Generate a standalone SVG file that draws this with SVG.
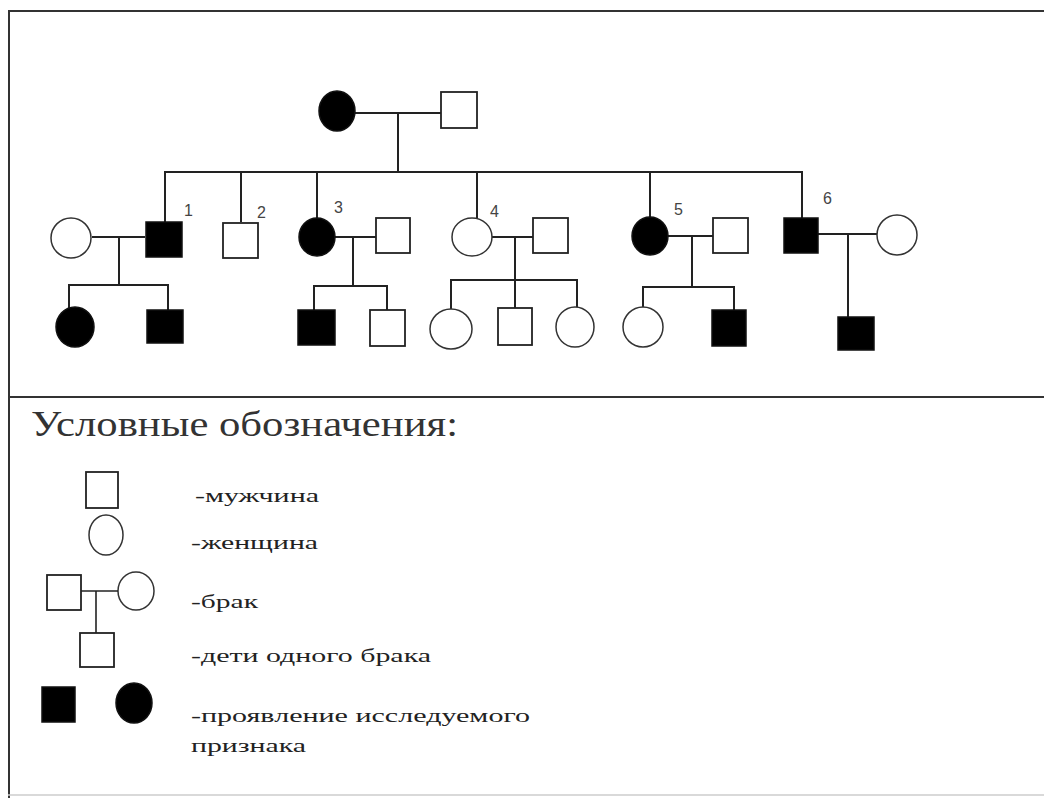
<svg xmlns="http://www.w3.org/2000/svg" width="1044" height="798" viewBox="0 0 1044 798">
<style>
.m{fill:#fff;stroke:#222;stroke-width:1.8}
.a{fill:#000;stroke:#111;stroke-width:1.5}
.f{fill:#fff;stroke:#333;stroke-width:1.5}
.c line{stroke:#222;stroke-width:2}
.d{stroke:#222;stroke-width:1.6}
.num{font-family:"Liberation Sans",Arial,sans-serif;font-size:16px;fill:#444}
.lg{font-family:"Liberation Serif","Times New Roman",serif;font-size:19px;fill:#222}
.tt{font-family:"Liberation Serif","Times New Roman",serif;font-size:36px;fill:#333}
.fr{stroke:#333;stroke-width:2}
</style>
<rect width="1044" height="798" fill="#fff"/>
<g id="frame">
<line class="fr" x1="8" y1="11" x2="1044" y2="11"/>
<line class="fr" x1="9" y1="10" x2="9" y2="798"/>
<line class="fr" x1="8" y1="397" x2="1044" y2="397" stroke-width="2.5"/>
<line x1="8" y1="795" x2="1044" y2="795" stroke="#ccc" stroke-width="1.5"/>
</g>
<g id="connectors" class="c">
<line x1="355" y1="113" x2="441" y2="113"/>
<line class="d" x1="398" y1="113" x2="398" y2="172"/>
<line x1="164" y1="172" x2="803" y2="172"/>
<line class="d" x1="165" y1="172" x2="165" y2="222"/>
<line class="d" x1="241" y1="172" x2="241" y2="222"/>
<line class="d" x1="317" y1="172" x2="317" y2="218"/>
<line class="d" x1="477" y1="172" x2="477" y2="218"/>
<line class="d" x1="650" y1="172" x2="650" y2="218"/>
<line class="d" x1="802" y1="172" x2="802" y2="218"/>
<line x1="92" y1="237" x2="145" y2="237"/>
<line class="d" x1="119" y1="237" x2="119" y2="285"/>
<line x1="68" y1="285" x2="169" y2="285"/>
<line class="d" x1="69" y1="285" x2="69" y2="308"/>
<line class="d" x1="168" y1="285" x2="168" y2="310"/>
<line x1="335" y1="237" x2="376" y2="237"/>
<line class="d" x1="353" y1="237" x2="353" y2="286"/>
<line x1="313" y1="286" x2="388" y2="286"/>
<line class="d" x1="314" y1="286" x2="314" y2="310"/>
<line class="d" x1="387" y1="286" x2="387" y2="310"/>
<line x1="491" y1="237" x2="533" y2="237"/>
<line class="d" x1="515" y1="237" x2="515" y2="308"/>
<line x1="450" y1="280" x2="578" y2="280"/>
<line class="d" x1="451" y1="280" x2="451" y2="309"/>
<line class="d" x1="577" y1="280" x2="577" y2="307"/>
<line x1="668" y1="236" x2="713" y2="236"/>
<line class="d" x1="692" y1="236" x2="692" y2="287"/>
<line x1="642" y1="287" x2="735" y2="287"/>
<line class="d" x1="643" y1="287" x2="643" y2="307"/>
<line class="d" x1="734" y1="287" x2="734" y2="310"/>
<line x1="818" y1="234" x2="877" y2="234"/>
<line class="d" x1="848" y1="234" x2="848" y2="317"/>
</g>
<g id="gen1-mother"><ellipse class="a" cx="337" cy="111" rx="18" ry="20"/></g>
<g id="gen1-father"><rect class="m" x="441" y="92" width="36" height="36"/></g>
<g id="spouse-1"><ellipse class="f" cx="71" cy="238" rx="20" ry="20"/></g>
<g id="child-1"><rect class="a" x="146" y="222" width="36" height="35"/><text class="num" x="184" y="216">1</text></g>
<g id="child-2"><rect class="m" x="223" y="223" width="35" height="35"/><text class="num" x="257" y="218">2</text></g>
<g id="child-3"><ellipse class="a" cx="317" cy="237" rx="18" ry="19"/><text class="num" x="334" y="213">3</text></g>
<g id="spouse-3"><rect class="m" x="376" y="218" width="34" height="35"/></g>
<g id="child-4"><ellipse class="f" cx="472" cy="237" rx="20" ry="19"/><text class="num" x="490" y="217">4</text></g>
<g id="spouse-4"><rect class="m" x="533" y="218" width="35" height="35"/></g>
<g id="child-5"><ellipse class="a" cx="650" cy="236" rx="18" ry="19"/><text class="num" x="674" y="215">5</text></g>
<g id="spouse-5"><rect class="m" x="713" y="218" width="35" height="35"/></g>
<g id="child-6"><rect class="a" x="784" y="218" width="34" height="35"/><text class="num" x="823" y="204">6</text></g>
<g id="spouse-6"><ellipse class="f" cx="897" cy="235" rx="20" ry="20"/></g>
<g id="gc-1a"><ellipse class="a" cx="75" cy="327" rx="19" ry="20"/></g>
<g id="gc-1b"><rect class="a" x="147" y="310" width="36" height="33"/></g>
<g id="gc-3a"><rect class="a" x="298" y="310" width="37" height="35"/></g>
<g id="gc-3b"><rect class="m" x="370" y="310" width="35" height="36"/></g>
<g id="gc-4a"><ellipse class="f" cx="451" cy="329" rx="21" ry="20"/></g>
<g id="gc-4b"><rect class="m" x="498" y="308" width="34" height="37"/></g>
<g id="gc-4c"><ellipse class="f" cx="575" cy="327" rx="19" ry="20"/></g>
<g id="gc-5a"><ellipse class="f" cx="643" cy="327" rx="20" ry="20"/></g>
<g id="gc-5b"><rect class="a" x="712" y="310" width="34" height="36"/></g>
<g id="gc-6"><rect class="a" x="838" y="317" width="36" height="33"/></g>
<g id="legend">
<text class="tt" x="31" y="436" textLength="427" lengthAdjust="spacingAndGlyphs">Условные обозначения:</text>
<g id="leg-male"><rect class="m" x="86" y="472" width="32" height="36"/><text class="lg" x="195" y="502" textLength="124" lengthAdjust="spacingAndGlyphs">-мужчина</text></g>
<g id="leg-female"><ellipse class="f" cx="106" cy="535" rx="17" ry="20"/><text class="lg" x="191" y="549" textLength="127" lengthAdjust="spacingAndGlyphs">-женщина</text></g>
<g id="leg-marriage"><rect class="m" x="47" y="575" width="34" height="35"/><ellipse class="f" cx="136" cy="591" rx="18" ry="19"/><line class="d" x1="81" y1="591" x2="118" y2="591"/><line class="d" x1="96" y1="591" x2="96" y2="633"/><text class="lg" x="191" y="608" textLength="67" lengthAdjust="spacingAndGlyphs">-брак</text></g>
<g id="leg-children"><rect class="m" x="80" y="633" width="34" height="34"/><text class="lg" x="191" y="662" textLength="240" lengthAdjust="spacingAndGlyphs">-дети одного брака</text></g>
<g id="leg-trait"><rect class="a" x="42" y="687" width="33" height="35"/><ellipse class="a" cx="134" cy="703" rx="18" ry="20"/><text class="lg" x="191" y="722" textLength="339" lengthAdjust="spacingAndGlyphs">-проявление исследуемого</text><text class="lg" x="191" y="752" textLength="115" lengthAdjust="spacingAndGlyphs">признака</text></g>
</g>
</svg>
